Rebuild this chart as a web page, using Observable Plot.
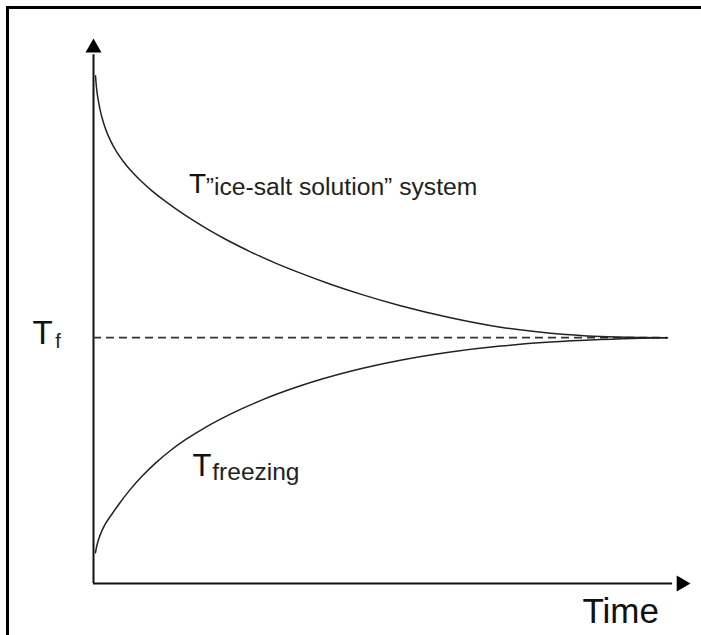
<!DOCTYPE html>
<html>
<head>
<meta charset="utf-8">
<script src="https://cdn.jsdelivr.net/npm/d3@7"></script>
<script src="https://cdn.jsdelivr.net/npm/@observablehq/plot@0.6"></script>
<style>
  html, body { margin: 0; padding: 0; background: #fff; }
  #wrap { position: relative; width: 701px; height: 635px; overflow: hidden; }
  #frame { position: absolute; left: 6px; top: 6px; width: 720px; height: 660px;
           border-left: 3px solid #000; border-top: 3px solid #000; box-sizing: border-box; }
  #chart { position: absolute; left: 0; top: 0; }
</style>
</head>
<body>
<div id="wrap"><div id="frame"></div><div id="chart"></div></div>
<script>
// Time (arbitrary units 0-100) and temperature (arbitrary units 0-100)
const Tf = 45.1;
const tEnd = 96.15;

// T "ice-salt solution" system (falls toward Tf)
const systemTime = [0.335, 0.503, 0.838, 1.34, 2.01, 2.848, 3.853, 5.025, 6.365, 7.873, 9.548, 11.558, 13.735, 16.248, 19.095, 22.111, 26.298, 30.486, 34.673, 39.698, 44.724, 51.424, 59.799, 68.174, 76.549, 84.925, 91.625, 96.15];
const systemTemp = [93.17, 90.97, 88.40, 85.83, 83.45, 81.25, 79.23, 77.39, 75.63, 73.93, 72.27, 70.51, 68.77, 66.93, 65.01, 63.16, 60.86, 58.79, 56.95, 54.92, 53.10, 50.97, 48.77, 47.03, 45.93, 45.33, 45.15, 45.1];

// T freezing (rises toward Tf)
const freezeTime = [0.335, 0.503, 0.838, 1.34, 2.01, 3.015, 4.188, 6.198, 8.208, 10.385, 12.898, 15.41, 18.76, 22.948, 27.973, 34.673, 43.049, 51.424, 59.799, 68.174, 76.549, 84.925, 91.625, 96.15];
const freezeTemp = [5.65, 6.66, 8.04, 9.50, 10.97, 12.62, 14.46, 17.32, 19.78, 22.09, 24.40, 26.38, 28.66, 31.08, 33.56, 36.27, 38.93, 40.95, 42.46, 43.56, 44.29, 44.75, 45.01, 45.1];

// label texts
const labelMain = ["T", "T", "T"];
const labelSub = ["f", "\u201dice-salt solution\u201d system", "freezing"];
const axisTitle = "Time";

const system = systemTime.map((t, i) => ({t, v: systemTemp[i]}));
const freezing = freezeTime.map((t, i) => ({t, v: freezeTemp[i]}));

// annotation anchors (data coordinates)
const mainLabels = [
  {text: labelMain[0], t: -10.2, v: 44.0, size: 33},
  {text: labelMain[1], t: 16.0, v: 71.6, size: 28},
  {text: labelMain[2], t: 16.6, v: 19.8, size: 31}
];
const subLabels = [
  {text: labelSub[0], t: -6.4, v: 43.2, size: 20},
  {text: labelSub[1], t: 18.8, v: 71.2, size: 24.7},
  {text: labelSub[2], t: 19.9, v: 18.9, size: 24.5}
];

const font = "'Liberation Sans', Arial, sans-serif";

const plot = Plot.plot({
  width: 701,
  height: 635,
  marginLeft: 93,
  marginRight: 11,
  marginTop: 38,
  marginBottom: 52,
  x: {domain: [0, 100], axis: null},
  y: {domain: [0, 100], axis: null},
  style: {fontFamily: font, background: "transparent", overflow: "visible"},
  marks: [
    // axes
    Plot.ruleX([0], {y1: 0, y2: 97, stroke: "#111", strokeWidth: 2}),
    Plot.ruleY([0], {x1: 0, x2: 97, stroke: "#111", strokeWidth: 2}),
    Plot.dot([{t: 0, v: 98.3}], {x: "t", y: "v", symbol: "triangle", r: 5.94, fill: "#000", stroke: null}),
    Plot.dot([{t: 98.46, v: 0}], {x: "t", y: "v", symbol: "triangle", r: 5.94, rotate: 90, fill: "#000", stroke: null}),
    // Tf dashed line
    Plot.ruleY([Tf], {x1: 0, x2: tEnd, stroke: "#333", strokeWidth: 1.8, strokeDasharray: "8,5"}),
    // curves
    Plot.line(system, {x: "t", y: "v", curve: "monotone-x", stroke: "#222", strokeWidth: 1.5}),
    Plot.line(freezing, {x: "t", y: "v", curve: "monotone-x", stroke: "#222", strokeWidth: 1.5}),
    // labels
    Plot.text(mainLabels, {x: "t", y: "v", text: "text", fontSize: d => d.size, textAnchor: "start", lineAnchor: "bottom", fill: "#111"}),
    Plot.text(subLabels, {x: "t", y: "v", text: "text", fontSize: d => d.size, textAnchor: "start", lineAnchor: "bottom", fill: "#222"}),
    Plot.text([axisTitle], {x: 81.9, y: -7.2, text: d => d, fontSize: 35, textAnchor: "start", lineAnchor: "bottom", fill: "#111"})
  ]
});
document.getElementById("chart").appendChild(plot);
</script>
</body>
</html>
